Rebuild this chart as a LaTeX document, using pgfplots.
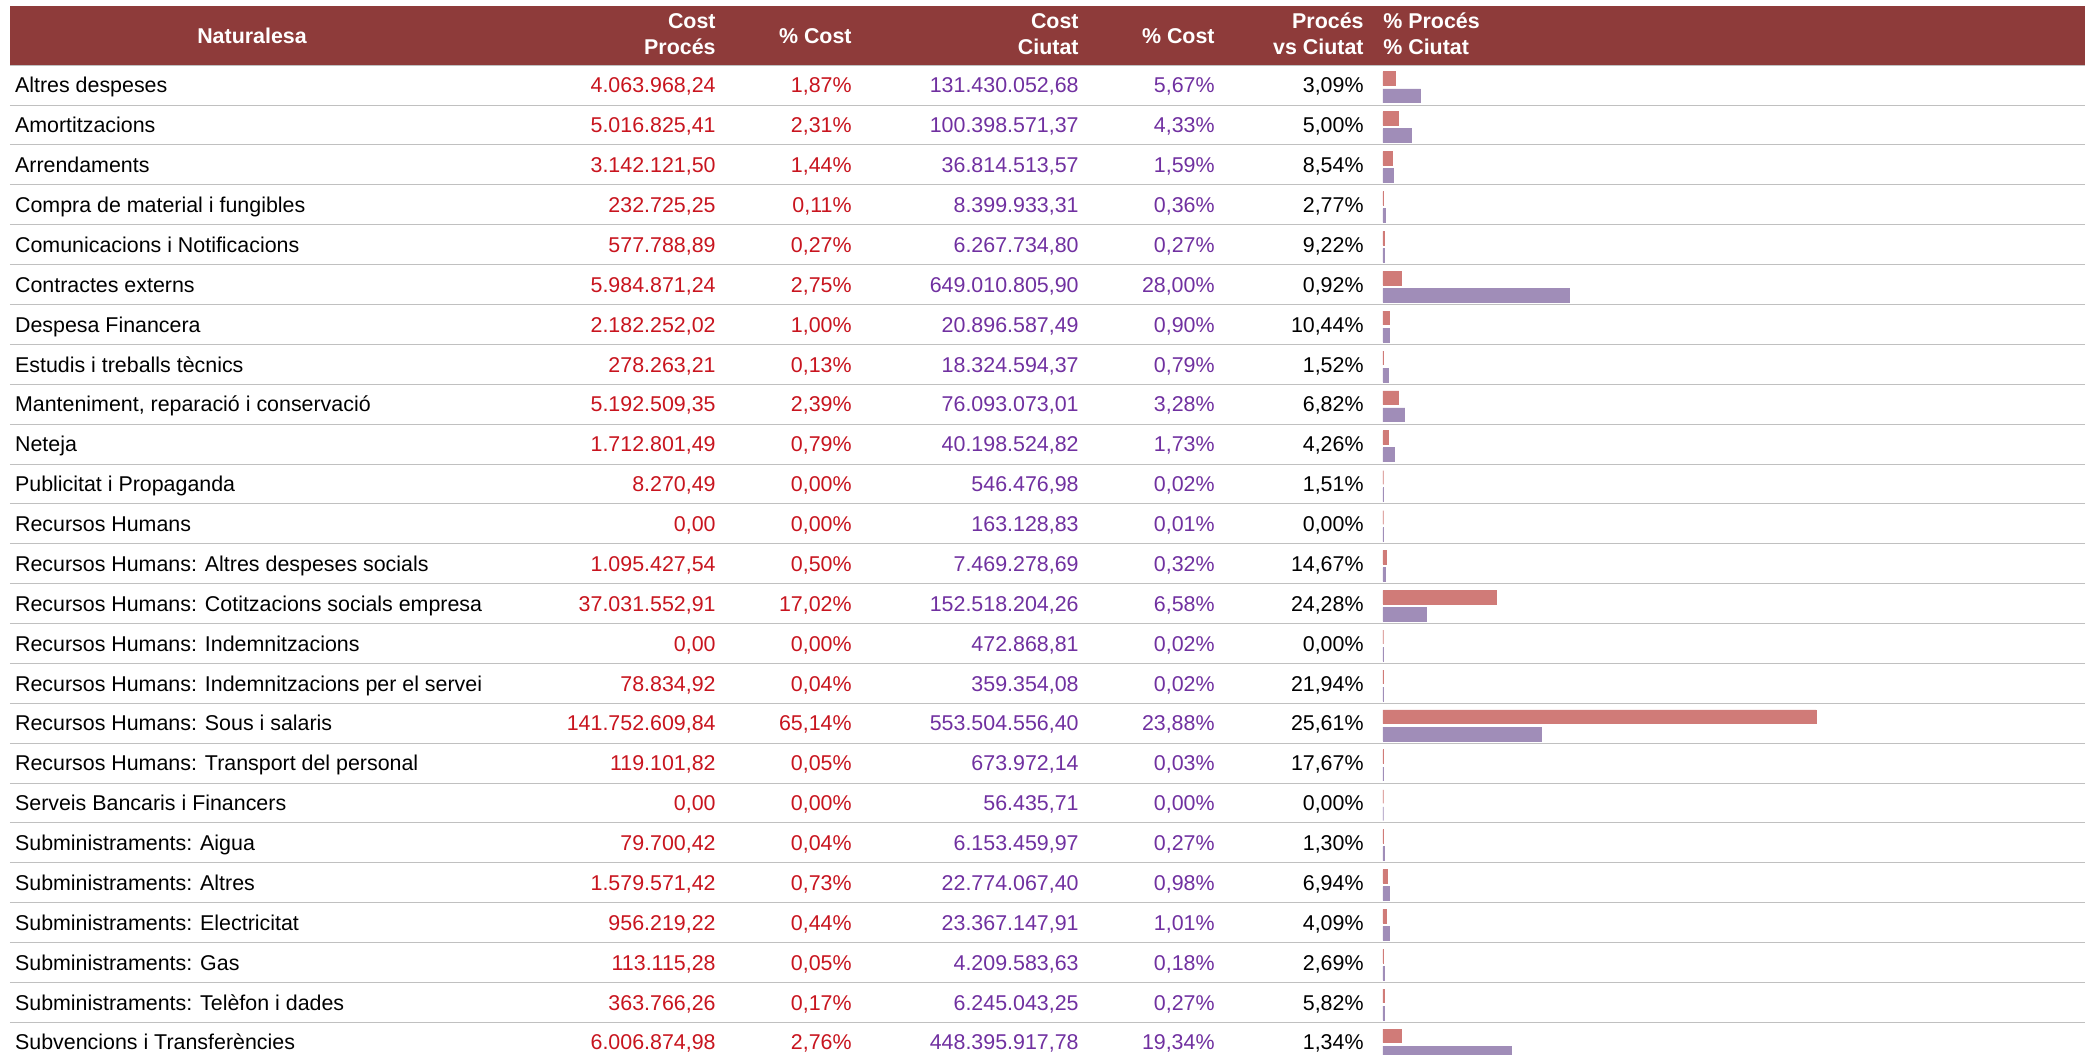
\documentclass[border=0pt]{standalone}
\usepackage{pgfplots}
\pgfplotsset{compat=1.18}
\usepackage{pgfplotstable}
\usepackage{fontspec}
\setmainfont{Liberation Sans}
\definecolor{headcol}{HTML}{8E3B3A}
\definecolor{redtxt}{HTML}{C8141E}
\definecolor{purtxt}{HTML}{7030A0}
\definecolor{procol}{HTML}{D07B78}
\definecolor{ciucol}{HTML}{A08DB8}
\definecolor{linecol}{HTML}{C0C0C0}
\newcommand\tfont{\fontsize{10.7}{12}\selectfont}

\pgfplotstableread[col sep=semicolon]{
r;name;cp;pp;cc;pc;vs;bp;bc
0;Altres despeses;4.063.968,24;1,87\%;131.430.052,68;5,67\%;3,09\%;1.87;5.67
1;Amortitzacions;5.016.825,41;2,31\%;100.398.571,37;4,33\%;5,00\%;2.31;4.33
2;Arrendaments;3.142.121,50;1,44\%;36.814.513,57;1,59\%;8,54\%;1.44;1.59
3;Compra de material i fungibles;232.725,25;0,11\%;8.399.933,31;0,36\%;2,77\%;0.11;0.36
4;Comunicacions i Notificacions;577.788,89;0,27\%;6.267.734,80;0,27\%;9,22\%;0.27;0.27
5;Contractes externs;5.984.871,24;2,75\%;649.010.805,90;28,00\%;0,92\%;2.75;28.00
6;Despesa Financera;2.182.252,02;1,00\%;20.896.587,49;0,90\%;10,44\%;1.00;0.90
7;Estudis i treballs tècnics;278.263,21;0,13\%;18.324.594,37;0,79\%;1,52\%;0.13;0.79
8;Manteniment, reparació i conservació;5.192.509,35;2,39\%;76.093.073,01;3,28\%;6,82\%;2.39;3.28
9;Neteja;1.712.801,49;0,79\%;40.198.524,82;1,73\%;4,26\%;0.79;1.73
10;Publicitat i Propaganda;8.270,49;0,00\%;546.476,98;0,02\%;1,51\%;0.00;0.02
11;Recursos Humans;0,00;0,00\%;163.128,83;0,01\%;0,00\%;0.00;0.01
12;Recursos Humans: Altres despeses socials;1.095.427,54;0,50\%;7.469.278,69;0,32\%;14,67\%;0.50;0.32
13;Recursos Humans: Cotitzacions socials empresa;37.031.552,91;17,02\%;152.518.204,26;6,58\%;24,28\%;17.02;6.58
14;Recursos Humans: Indemnitzacions;0,00;0,00\%;472.868,81;0,02\%;0,00\%;0.00;0.02
15;Recursos Humans: Indemnitzacions per el servei;78.834,92;0,04\%;359.354,08;0,02\%;21,94\%;0.04;0.02
16;Recursos Humans: Sous i salaris;141.752.609,84;65,14\%;553.504.556,40;23,88\%;25,61\%;65.14;23.88
17;Recursos Humans: Transport del personal;119.101,82;0,05\%;673.972,14;0,03\%;17,67\%;0.05;0.03
18;Serveis Bancaris i Financers;0,00;0,00\%;56.435,71;0,00\%;0,00\%;0.00;0.00
19;Subministraments: Aigua;79.700,42;0,04\%;6.153.459,97;0,27\%;1,30\%;0.04;0.27
20;Subministraments: Altres;1.579.571,42;0,73\%;22.774.067,40;0,98\%;6,94\%;0.73;0.98
21;Subministraments: Electricitat;956.219,22;0,44\%;23.367.147,91;1,01\%;4,09\%;0.44;1.01
22;Subministraments: Gas;113.115,28;0,05\%;4.209.583,63;0,18\%;2,69\%;0.05;0.18
23;Subministraments: Telèfon i dades;363.766,26;0,17\%;6.245.043,25;0,27\%;5,82\%;0.17;0.27
24;Subvencions i Transferències;6.006.874,98;2,76\%;448.395.917,78;19,34\%;1,34\%;2.76;19.34
}\datatable

\pgfplotsset{
  tabtxt/.style n args={2}{draw=none, mark=none, nodes near coords, point meta=explicit symbolic,
    every node near coord/.append style={anchor=#1, text=#2, font=\tfont, inner sep=0pt}},
}

\begin{document}
\begin{tikzpicture}
% table layer (pixel coordinates)
\begin{axis}[
  at={(0,0)}, anchor=south west,
  width=1045.5pt, height=527pt, scale only axis,
  xmin=0, xmax=2091, ymin=0, ymax=1054, y dir=reverse,
  hide axis, clip=false,
]
\fill[headcol] (axis cs:10,6) rectangle (axis cs:2085,65.2);
\pgfplotsinvokeforeach{1,...,24}{
  \draw[linecol, line width=0.5pt] (axis cs:10,{65.2+#1*39.88}) -- (axis cs:2085,{65.2+#1*39.88});
}
\draw[linecol, line width=0.5pt] (axis cs:10,65.6) -- (axis cs:2085,65.6);

% header
\begin{scope}[every node/.style={text=white, font=\tfont\bfseries, inner sep=0pt}]
\node[anchor=base] at (axis cs:252,43.6) {Naturalesa};
\node[anchor=base east] at (axis cs:716,28.8) {Cost};
\node[anchor=base east] at (axis cs:716,54.3) {Procés};
\node[anchor=base east] at (axis cs:852,43.6) {\% Cost};
\node[anchor=base east] at (axis cs:1079,28.8) {Cost};
\node[anchor=base east] at (axis cs:1079,54.3) {Ciutat};
\node[anchor=base east] at (axis cs:1215,43.6) {\% Cost};
\node[anchor=base east] at (axis cs:1364,28.8) {Procés};
\node[anchor=base east] at (axis cs:1364,54.3) {vs Ciutat};
\node[anchor=base west] at (axis cs:1383,28.8) {\% Procés};
\node[anchor=base west] at (axis cs:1383,54.3) {\% Ciutat};
\end{scope}

% body text columns
\addplot[tabtxt={base west}{black}] table[x expr=14.7, y expr={65.2+(\thisrow{r}+0.5)*39.88+7.7}, meta=name]{\datatable};
\addplot[tabtxt={base east}{redtxt}] table[x expr=716, y expr={65.2+(\thisrow{r}+0.5)*39.88+7.7}, meta=cp]{\datatable};
\addplot[tabtxt={base east}{redtxt}] table[x expr=852, y expr={65.2+(\thisrow{r}+0.5)*39.88+7.7}, meta=pp]{\datatable};
\addplot[tabtxt={base east}{purtxt}] table[x expr=1079, y expr={65.2+(\thisrow{r}+0.5)*39.88+7.7}, meta=cc]{\datatable};
\addplot[tabtxt={base east}{purtxt}] table[x expr=1215, y expr={65.2+(\thisrow{r}+0.5)*39.88+7.7}, meta=pc]{\datatable};
\addplot[tabtxt={base east}{black}] table[x expr=1364, y expr={65.2+(\thisrow{r}+0.5)*39.88+7.7}, meta=vs]{\datatable};
\end{axis}

% bar layer (percent on x, pixel rows on y)
\begin{axis}[
  at={(0,0)}, anchor=south west,
  width=1045.5pt, height=527pt, scale only axis,
  xmin=-207.97, xmax=106.47, ymin=0, ymax=1054, y dir=reverse,
  hide axis,
]
\addplot[xbar, bar width=13.7, bar shift=0pt, fill=procol, draw=procol, line width=0.4pt]
  table[x=bp, y expr={65.2+\thisrow{r}*39.88+13.55}]{\datatable};
\addplot[xbar, bar width=13.9, bar shift=0pt, fill=ciucol, draw=ciucol, line width=0.4pt]
  table[x=bc, y expr={65.2+\thisrow{r}*39.88+30.7}]{\datatable};
\end{axis}
\pgfresetboundingbox
\path[use as bounding box] (0,0) rectangle (1045.5pt,527pt);
\end{tikzpicture}
\end{document}
